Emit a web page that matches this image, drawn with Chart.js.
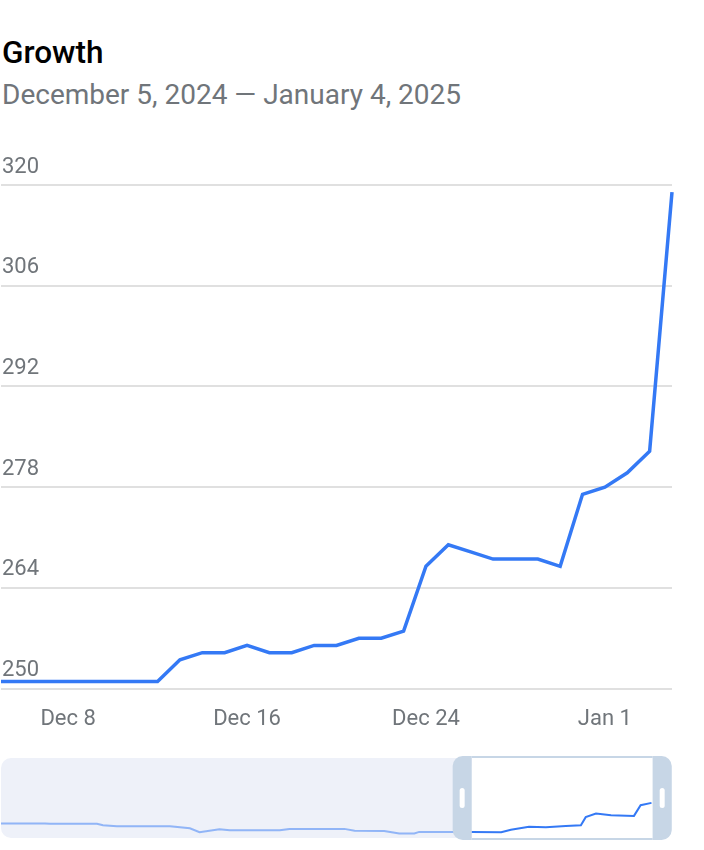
<!DOCTYPE html>
<html>
<head>
<meta charset="utf-8">
<script src="https://cdn.jsdelivr.net/npm/chart.js@4.4.1/dist/chart.umd.min.js"></script>
<style>
  body { margin: 0; background: #fff; font-family: Roboto, sans-serif; }
  #pagina { position: relative; width: 704px; height: 850px; overflow: hidden; }
  #titulo { position: absolute; left: 2px; top: 37px; font-size: 31.5px; line-height: 31.5px; font-weight: 500; color: #000; }
  #subtitulo { position: absolute; left: 2px; top: 81px; font-size: 28px; line-height: 28px; color: #70757a; }
  #boxPrincipal { position: absolute; left: 0; top: 130px; width: 704px; height: 615px; }
  #boxNavegador { position: absolute; left: 0; top: 750px; width: 704px; height: 96px; }
</style>
</head>
<body>
<div id="pagina">
  <div id="titulo">Growth</div>
  <div id="subtitulo">December 5, 2024 — January 4, 2025</div>
  <div id="boxPrincipal"><canvas id="graficoPrincipal"></canvas></div>
  <div id="boxNavegador"><canvas id="graficoNavegador"></canvas></div>
</div>
<script>
// Dias do período (eixo X)
const dias = ['Dec 5','Dec 6','Dec 7','Dec 8','Dec 9','Dec 10','Dec 11','Dec 12','Dec 13','Dec 14',
  'Dec 15','Dec 16','Dec 17','Dec 18','Dec 19','Dec 20','Dec 21','Dec 22','Dec 23','Dec 24',
  'Dec 25','Dec 26','Dec 27','Dec 28','Dec 29','Dec 30','Dec 31','Jan 1','Jan 2','Jan 3','Jan 4'];

// Valores de crescimento por dia
const crescimento = [251, 251, 251, 251, 251, 251, 251, 251, 254, 255,
  255, 256, 255, 255, 256, 256, 257, 257, 258, 267,
  270, 269, 268, 268, 268, 267, 277, 278, 280, 283, 319];

// Rótulos mostrados no eixo X
const marcasX = ['Dec 8', 'Dec 16', 'Dec 24', 'Jan 1'];

// Marcas do eixo Y
const eixoYMin = 250;
const eixoYMax = 320;
const eixoYPasso = 14;

// Navegador: histórico mais longo (dia desde o início, valor)
const navDias = [0, 7.3, 8.1, 15.9, 16.9, 19.2, 28, 31.3, 32.9, 36.2, 37.9, 46.2, 47.8, 56.9, 58.6,
  63.5, 66, 68.5, 69.3, 78, 82.9, 84.5, 87.5, 90.3, 93.6, 96.1, 96.9, 98.6, 101.1, 104.9, 106, 107.8];
const navValores = [260, 260, 259.6, 259.6, 258.2, 257.2, 257.2, 255.1, 251, 254.1, 253, 253, 254.4, 254.4, 252.5,
  252.3, 249.7, 249.7, 251.3, 251.3, 251, 253.4, 256.5, 256.2, 257.5, 258.2, 266.5, 270.3, 268.5, 267.8, 278.8, 281.2];

// Janela selecionada no navegador (em dias)
const janelaInicio = 78;
const janelaFim = 108;

const azul = '#3479f5';
const azulClaro = 'rgba(52, 121, 246, 0.5)';
const cinzaTexto = '#70757a';

// Gráfico principal
new Chart(document.getElementById('graficoPrincipal'), {
    type: 'line',
    data: {
        labels: dias,
        datasets: [{
            data: crescimento,
            borderColor: azul,
            borderWidth: 3.5,
            pointRadius: 0,
            tension: 0,
            clip: false
        }]
    },
    options: {
        responsive: true,
        maintainAspectRatio: false,
        animation: false,
        layout: { padding: { left: 1, right: 32, top: 55, bottom: 2 } },
        plugins: { legend: { display: false }, tooltip: { enabled: false } },
        scales: {
            x: {
                afterFit: eixo => { eixo.paddingLeft = 0; eixo.paddingRight = 0; },
                grid: { display: false },
                border: { display: false },
                ticks: {
                    autoSkip: false,
                    maxRotation: 0,
                    padding: 10,
                    color: cinzaTexto,
                    font: { family: 'Roboto', size: 22 },
                    callback: function (valor) {
                        const rotulo = this.getLabelForValue(valor);
                        return marcasX.includes(rotulo) ? rotulo : '';
                    }
                }
            },
            y: {
                min: eixoYMin,
                max: eixoYMax,
                afterFit: eixo => { eixo.width = 0; },
                grid: { color: '#e0e0e0', lineWidth: 2, drawTicks: false },
                border: { display: false },
                ticks: {
                    stepSize: eixoYPasso,
                    mirror: true,
                    padding: 1,
                    labelOffset: -18,
                    color: cinzaTexto,
                    font: { family: 'Roboto', size: 22 }
                }
            }
        }
    }
});

// Plugin que desenha o fundo e a janela do navegador
function caixaArredondada(ctx, x, y, w, h, r) {
    ctx.beginPath();
    ctx.roundRect(x, y, w, h, r);
    ctx.fill();
}

const pluginJanela = {
    id: 'janela',
    beforeDatasetsDraw(chart) {
        const { ctx, chartArea, scales } = chart;
        const x0 = scales.x.getPixelForValue(janelaInicio);
        const x1 = scales.x.getPixelForValue(janelaFim);
        ctx.save();
        ctx.fillStyle = '#eef1f9';
        caixaArredondada(ctx, chartArea.left, chartArea.top, chartArea.right - chartArea.left, chartArea.bottom - chartArea.top, 10);
        ctx.fillStyle = '#ffffff';
        ctx.fillRect(x0, chartArea.top, x1 - x0, chartArea.bottom - chartArea.top);
        ctx.restore();
    },
    afterDatasetsDraw(chart) {
        const { ctx, chartArea, scales } = chart;
        const x0 = scales.x.getPixelForValue(janelaInicio);
        const x1 = scales.x.getPixelForValue(janelaFim);
        const alca = 19;
        const topo = chartArea.top - 2;
        const base = chartArea.bottom + 2;
        ctx.save();
        ctx.fillStyle = '#c7d6e6';
        ctx.beginPath();
        ctx.roundRect(x0 - alca, topo, alca, base - topo, [10, 0, 0, 10]);
        ctx.fill();
        ctx.beginPath();
        ctx.roundRect(x1, topo, alca, base - topo, [0, 10, 10, 0]);
        ctx.fill();
        ctx.fillRect(x0, topo, x1 - x0, 2);
        ctx.fillRect(x0, base - 2, x1 - x0, 2);
        // alças brancas
        const meio = (chartArea.top + chartArea.bottom) / 2;
        ctx.fillStyle = '#ffffff';
        ctx.beginPath();
        ctx.roundRect(x0 - alca / 2 - 2.5, meio - 10, 5, 20, 2.5);
        ctx.fill();
        ctx.beginPath();
        ctx.roundRect(x1 + alca / 2 - 2.5, meio - 10, 5, 20, 2.5);
        ctx.fill();
        ctx.restore();
    }
};

// Gráfico do navegador
new Chart(document.getElementById('graficoNavegador'), {
    type: 'line',
    data: {
        datasets: [{
            data: navDias.map((d, i) => ({ x: d, y: navValores[i] })),
            borderColor: azulClaro,
            borderWidth: 2,
            pointRadius: 0,
            tension: 0,
            segment: {
                borderColor: c => (c.p0.parsed.x >= janelaInicio ? azul : azulClaro)
            }
        }]
    },
    options: {
        responsive: true,
        maintainAspectRatio: false,
        animation: false,
        layout: { padding: { left: 1, right: 32, top: 8, bottom: 8 } },
        plugins: { legend: { display: false }, tooltip: { enabled: false } },
        scales: {
            x: { type: 'linear', min: 0, max: 111.2, display: false },
            y: { min: 245, max: 327.5, display: false }
        }
    },
    plugins: [pluginJanela]
});
</script>
</body>
</html>
